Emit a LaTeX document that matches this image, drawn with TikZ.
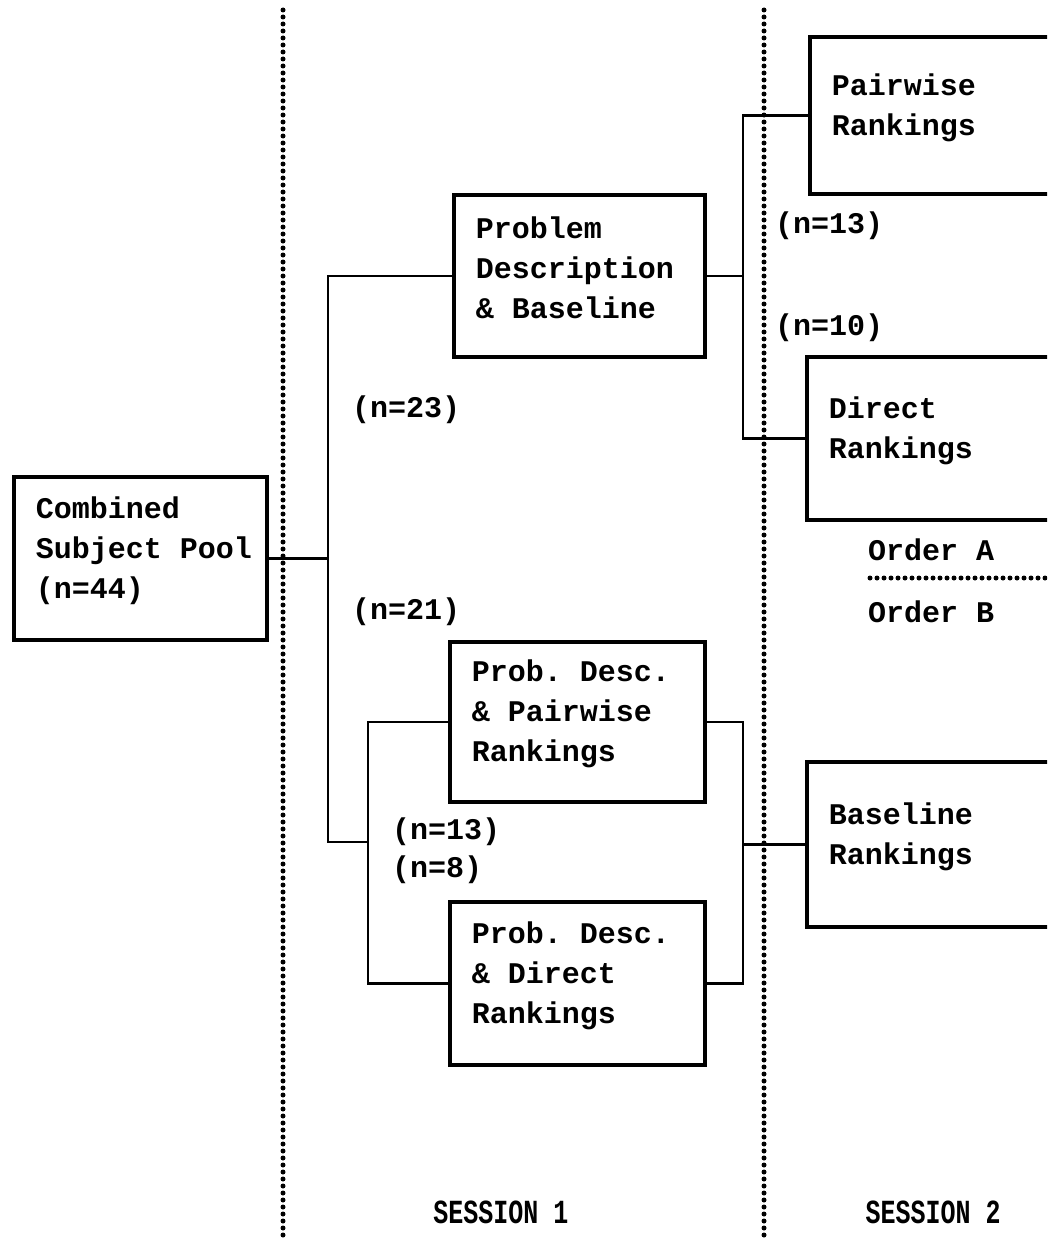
\documentclass[tikz,border=0pt]{standalone}
\usepackage{fontspec}
\setmonofont{Liberation Mono}
\hfuzz=40pt
\newcommand{\mybxt}[3]{\parbox[c][#2][c]{#1}{\frenchspacing\spaceskip=0.6em plus 0pt minus 0pt\relax\raggedright #3\par\vspace*{16pt}}}
\begin{document}
\begin{tikzpicture}[x=1pt,y=-1pt,
  txt/.style={font=\ttfamily\bfseries\fontsize{30}{40}\selectfont},
  box/.style={draw, line width=3.8pt, anchor=north west, inner xsep=22pt, inner ysep=0pt, txt},
  conn/.style={line width=2.5pt},
  dots/.style={line width=5pt, dash pattern=on 0pt off 7pt, line cap=round},
  lbl/.style={anchor=west, inner sep=0pt, txt},
  sess/.style={inner sep=0pt, font=\ttfamily\bfseries\fontsize{25}{30}\selectfont}]
\clip (0,0) rectangle (1047,1239);
\fill[white] (0,0) rectangle (1047,1239);
% dotted separators
\draw[dots] (283,10) -- (283,1239);
\draw[dots] (764,10) -- (764,1239);
\draw[dots] (870,578) -- (1050,578);
% boxes
\node[box] (pool) at (12,475) {\mybxt{209pt}{163pt}{Combined\\\mbox{Subject Pool}\\(n=44)}};
\node[box] (prob) at (452,193) {\mybxt{207pt}{162pt}{Problem\\Description\\\& Baseline}};
\node[box] (pdp) at (448,640) {\mybxt{211pt}{160pt}{Prob. Desc.\\\& Pairwise\\Rankings}};
\node[box] (pdd) at (448,900) {\mybxt{211pt}{163pt}{Prob. Desc.\\\& Direct\\Rankings}};
\node[box] (pair) at (808,35) {\mybxt{216pt}{157pt}{Pairwise\\Rankings}};
\node[box] (dir) at (805,355) {\mybxt{216pt}{163pt}{Direct\\Rankings}};
\node[box] (base) at (805,760) {\mybxt{216pt}{165pt}{Baseline\\Rankings}};
% junction points
\coordinate (a1) at (328,842);
\coordinate (a2) at (368,842);
\coordinate (xr) at (743,0);
\coordinate (r1) at (prob.east -| xr);
\coordinate (r2) at (base.west -| xr);
% connectors
\draw[conn] (pool.east) -- (pool.east -| a1);
\draw[conn] (prob.west) -| (a1) -- (a2);
\draw[conn] (pdp.west) -| (a2) |- (pdd.west);
\draw[conn] (prob.east) -- (r1);
\draw[conn] (pair.west) -| (r1) |- (dir.west);
\draw[conn] (pdp.east) -| (r2) |- (pdd.east);
\draw[conn] (r2) -- (base.west);
% labels
\node[lbl] (n23) at (352,410) {(n=23)};
\node[lbl] (n21) at (352,612) {(n=21)};
\node[lbl] (n13a) at (775,226) {(n=13)};
\node[lbl] (n10) at (775,328) {(n=10)};
\node[lbl] (n13b) at (392,832) {(n=13)};
\node[lbl] (n8) at (392,870) {(n=8)};
\node[lbl] (oa) at (868,550) {Order A};
\node[lbl] (ob) at (868,612) {Order B};
\node[sess] (s1) at (501,1212) {\scalebox{1}[1.35]{SESSION 1}};
\node[sess] (s2) at (933,1212) {\scalebox{1}[1.35]{SESSION 2}};
\end{tikzpicture}
\end{document}
